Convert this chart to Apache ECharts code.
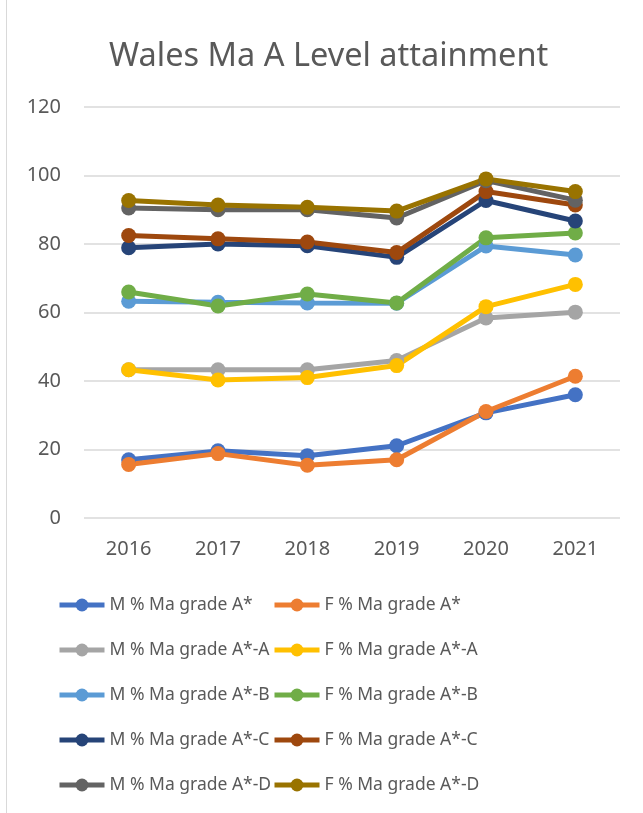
<!DOCTYPE html>
<html>
<head>
<meta charset="utf-8">
<title>Wales Ma A Level attainment</title>
<script src="https://cdn.jsdelivr.net/npm/echarts@6/dist/echarts.min.js"></script>
<style>
  html, body { margin: 0; padding: 0; background: #fff; }
  #main { position: absolute; left: 0; top: 0; width: 643px; height: 813px; }
  .frame { position: absolute; left: 6px; top: -2px; width: 700px; height: 900px; border: 1px solid #d9d9d9; box-sizing: border-box; }
</style>
</head>
<body>
<div class="frame"></div>
<div id="main"></div>
<script>
// 年份
var years = ['2016', '2017', '2018', '2019', '2020', '2021'];

// 男生 (M) 各等级累计百分比
var mAStar = [17.0, 19.6, 18.2, 21.1, 30.7, 36.0];
var mAStarA = [43.3, 43.3, 43.3, 46.0, 58.4, 60.1];
var mAStarB = [63.3, 63.0, 62.8, 62.7, 79.4, 76.8];
var mAStarC = [78.9, 80.0, 79.5, 76.1, 92.7, 86.7];
var mAStarD = [90.5, 90.0, 90.0, 87.6, 98.5, 92.8];

// 女生 (F) 各等级累计百分比
var fAStar = [15.6, 18.8, 15.4, 17.0, 31.1, 41.4];
var fAStarA = [43.3, 40.3, 41.0, 44.5, 61.7, 68.2];
var fAStarB = [66.0, 61.9, 65.4, 62.8, 81.8, 83.2];
var fAStarC = [82.5, 81.5, 80.6, 77.5, 95.3, 91.4];
var fAStarD = [92.7, 91.4, 90.7, 89.6, 99.0, 95.3];

// y 轴刻度
var yMin = 0;
var yMax = 120;
var yStep = 20;

var mNames = ['M % Ma grade A*', 'M % Ma grade A*-A', 'M % Ma grade A*-B', 'M % Ma grade A*-C', 'M % Ma grade A*-D'];
var fNames = ['F % Ma grade A*', 'F % Ma grade A*-A', 'F % Ma grade A*-B', 'F % Ma grade A*-C', 'F % Ma grade A*-D'];

var seriesList = [
  { name: mNames[0], data: mAStar, color: '#4472C4' },
  { name: fNames[0], data: fAStar, color: '#ED7D31' },
  { name: mNames[1], data: mAStarA, color: '#A5A5A5' },
  { name: fNames[1], data: fAStarA, color: '#FFC000' },
  { name: mNames[2], data: mAStarB, color: '#5B9BD5' },
  { name: fNames[2], data: fAStarB, color: '#70AD47' },
  { name: mNames[3], data: mAStarC, color: '#264478' },
  { name: fNames[3], data: fAStarC, color: '#9E480E' },
  { name: mNames[4], data: mAStarD, color: '#636363' },
  { name: fNames[4], data: fAStarD, color: '#997300' }
];

var fontName = '"Noto Sans", sans-serif';
var textColor = '#595959';

var attainChart = '';
var attainOpt = '';

// 图例：左列 M，右列 F
function legendBlock(left, names) {
  return {
    orient: 'vertical',
    left: left,
    top: 591,
    height: 300,
    itemWidth: 45,
    itemHeight: 16,
    itemGap: 27,
    data: names,
    lineStyle: { width: 5 },
    textStyle: {
      fontFamily: fontName,
      fontSize: 17.5,
      lineHeight: 14,
      color: textColor,
      padding: [0, 0, 0, 0]
    }
  };
}

attainOpt = {
  animation: false,
  title: {
    text: 'Wales Ma A Level attainment',
    left: 104,
    top: 35,
    textStyle: {
      fontFamily: fontName,
      fontSize: 32.5,
      fontWeight: 'normal',
      color: textColor
    }
  },
  legend: [legendBlock(52, mNames), legendBlock(267, fNames)],
  grid: {
    left: 84,
    right: 23,
    top: 107,
    bottom: 295
  },
  xAxis: {
    type: 'category',
    data: years,
    boundaryGap: true,
    axisLine: { show: false },
    axisTick: { show: false },
    axisLabel: {
      margin: 21,
      fontFamily: fontName,
      fontSize: 20,
      color: textColor
    }
  },
  yAxis: {
    type: 'value',
    min: yMin,
    max: yMax,
    interval: yStep,
    axisLine: { show: false },
    axisTick: { show: false },
    axisLabel: {
      margin: 23,
      fontFamily: fontName,
      fontSize: 20,
      color: textColor
    },
    splitLine: {
      lineStyle: { color: '#d9d9d9', width: 1.5 }
    }
  },
  series: seriesList.map(function (s) {
    return {
      name: s.name,
      type: 'line',
      data: s.data,
      symbol: 'circle',
      symbolSize: 15,
      color: s.color,
      lineStyle: { width: 5, color: s.color },
      itemStyle: { color: s.color }
    };
  })
};

function initChart() {
  attainChart = echarts.init(document.getElementById('main'));
  attainChart.setOption(attainOpt);
}

initChart();
</script>
</body>
</html>
